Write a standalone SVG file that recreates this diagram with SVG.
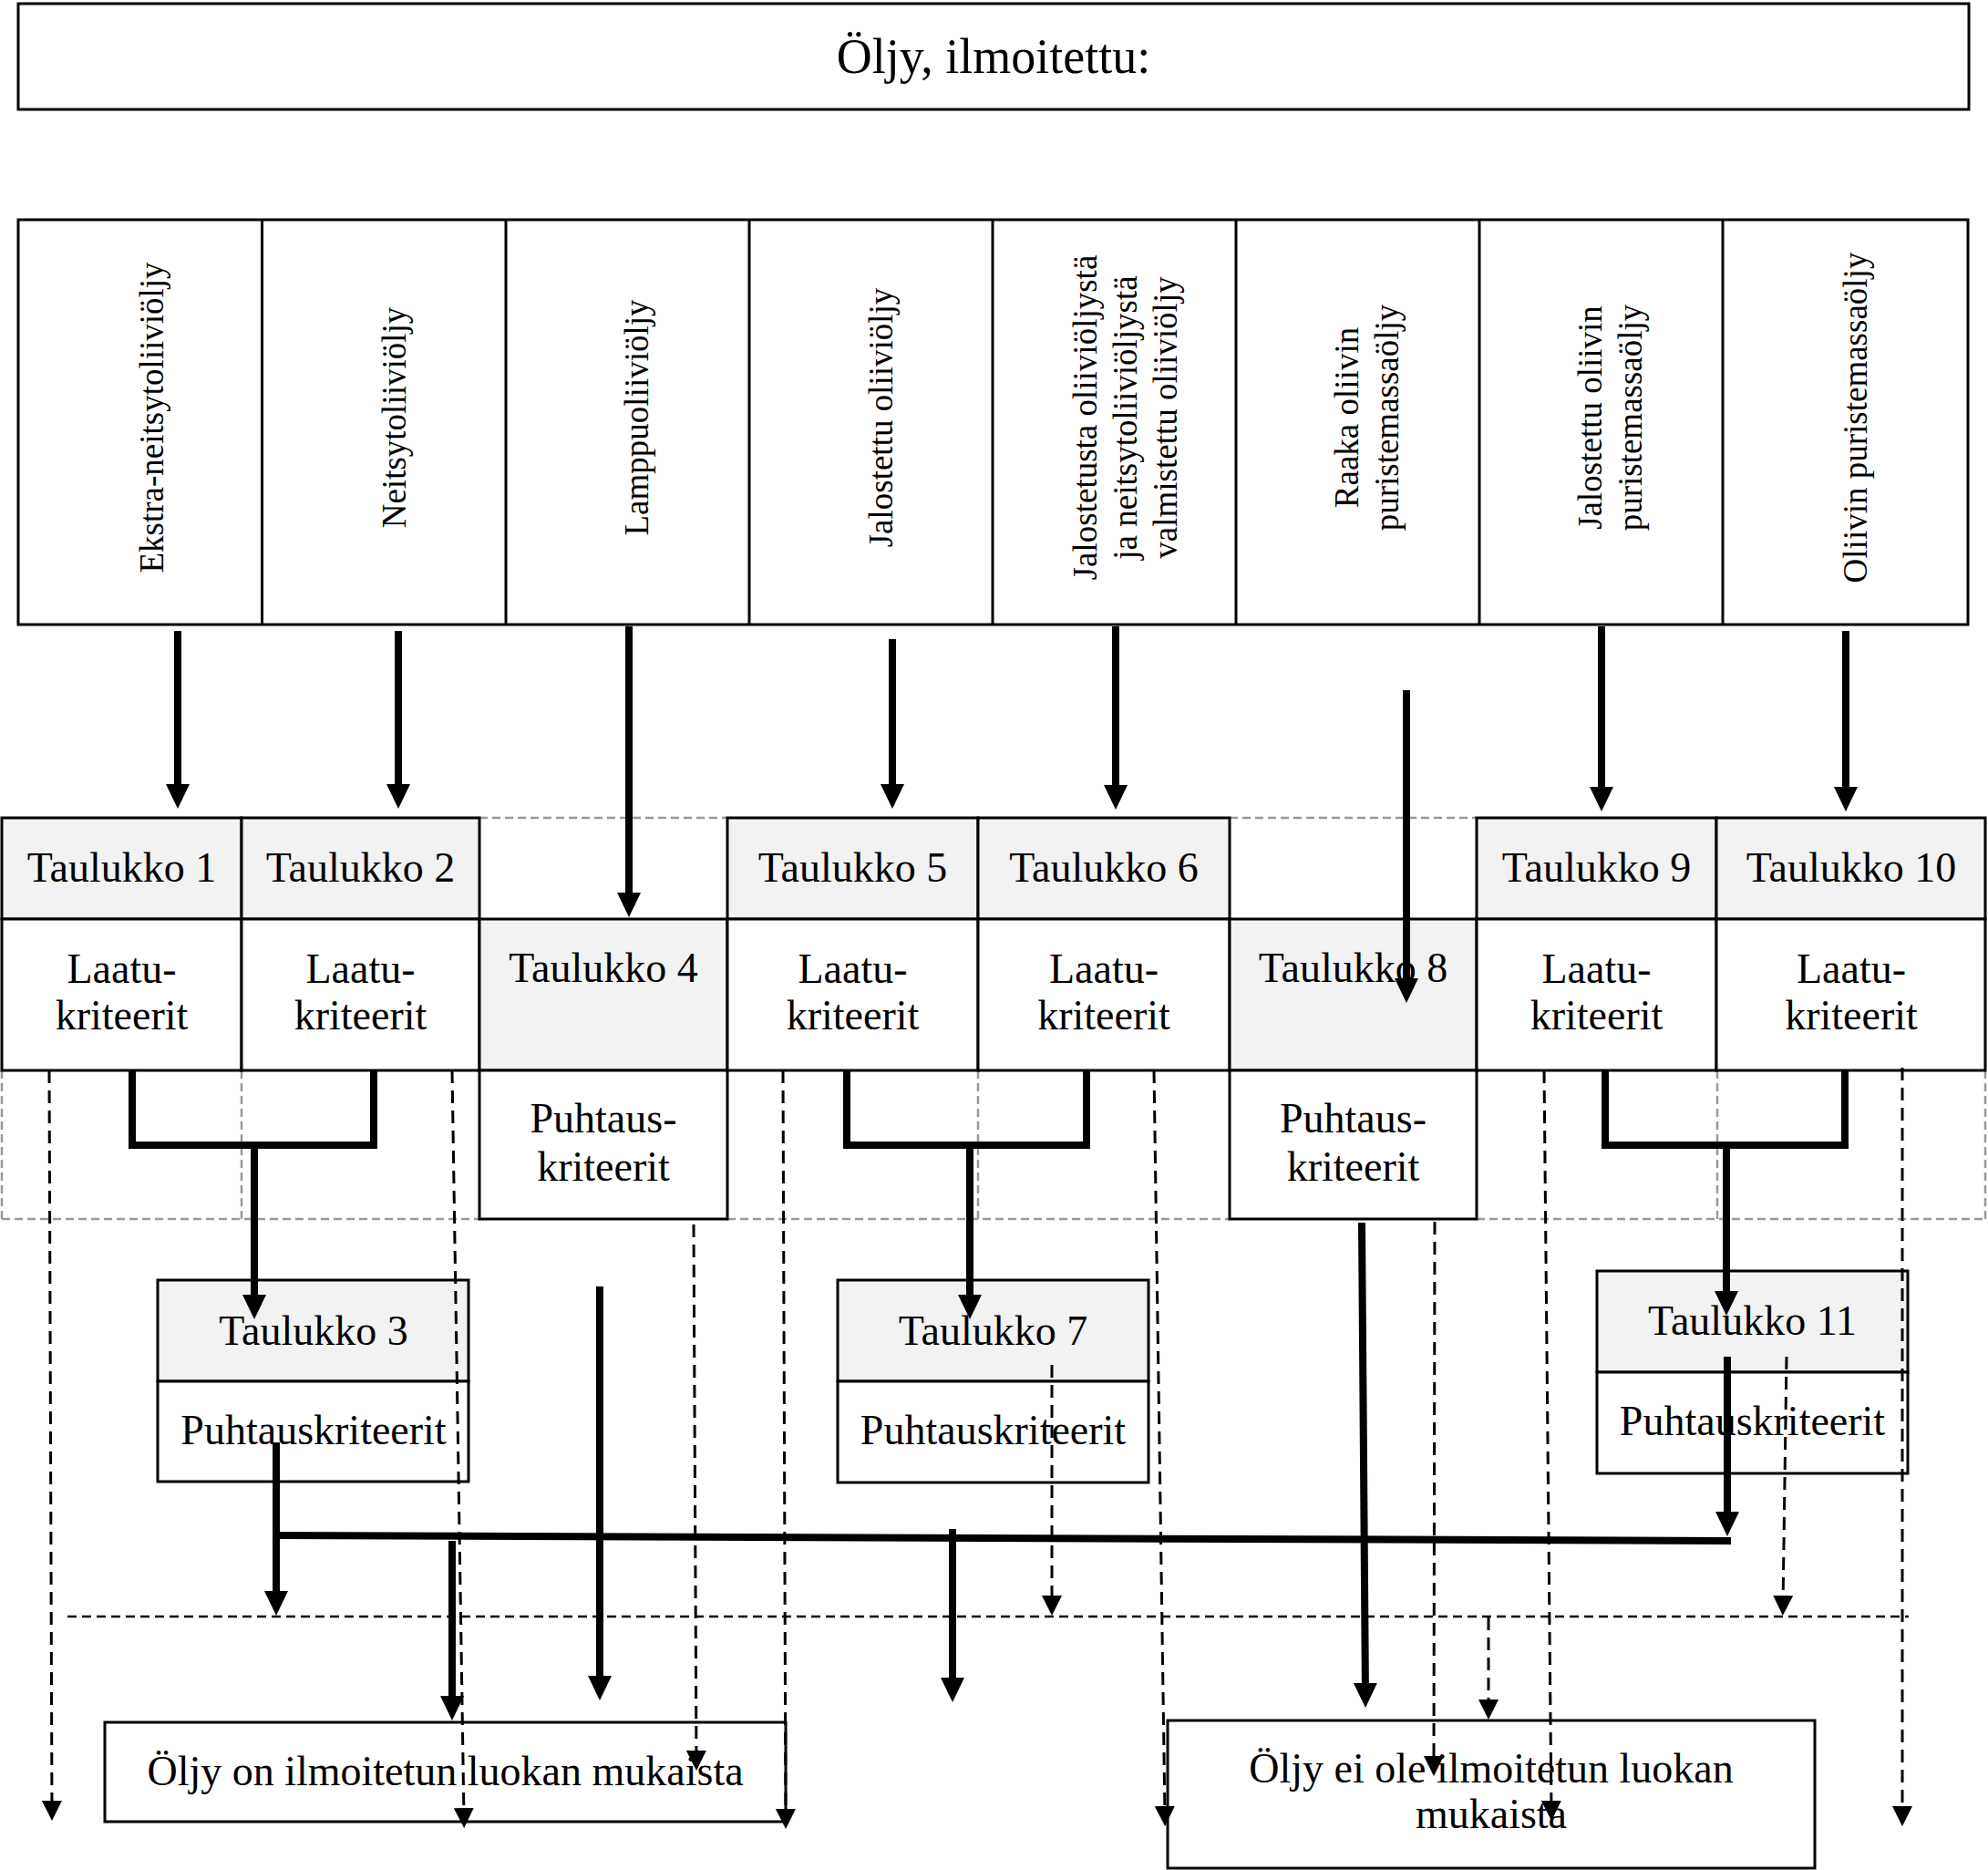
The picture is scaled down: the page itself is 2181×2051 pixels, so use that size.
<svg xmlns="http://www.w3.org/2000/svg" width="2181" height="2051" viewBox="0 0 2181 2051">
<style>
text{font-family:"Liberation Serif","Times New Roman",serif;fill:#000;text-anchor:middle}
.t{font-size:46px}
.tv{font-size:37px}
.ti{font-size:54px}
.box{fill:#fff;stroke:#000;stroke-width:3}
.hd{fill:#f2f2f2;stroke:#000;stroke-width:3}
.thick{fill:none;stroke:#000;stroke-width:8;marker-end:url(#ah)}
.br{fill:none;stroke:#000;stroke-width:8}
.dash{fill:none;stroke:#000;stroke-width:3;stroke-dasharray:14 8;marker-end:url(#ahd)}
.hdash{fill:none;stroke:#000;stroke-width:2.5;stroke-dasharray:10 6}
.gd{fill:none;stroke:#999;stroke-width:2.5;stroke-dasharray:9 5}
</style>
<defs>
<marker id="ah" markerUnits="userSpaceOnUse" viewBox="0 0 27 26" refX="17" refY="13" markerWidth="27" markerHeight="26" orient="auto"><path d="M0,0 L27,13 L0,26 z" fill="#000"/></marker>
<marker id="ahd" markerUnits="userSpaceOnUse" viewBox="0 0 22 22" refX="12" refY="11" markerWidth="22" markerHeight="22" orient="auto"><path d="M0,0 L22,11 L0,22 z" fill="#000"/></marker>
</defs>
<rect width="2181" height="2051" fill="#fff"/>

<g id="title">
<rect class="box" x="20" y="4" width="2140" height="116"/>
<text class="ti" x="1090" y="80">Öljy, ilmoitettu:</text>
</g>

<g id="oil-types">
<rect class="box" x="20" y="241" width="2139" height="444"/>
<path d="M287.5,241V685M555,241V685M822,241V685M1089,241V685M1356,241V685M1623,241V685M1890,241V685" stroke="#000" stroke-width="3"/>
<g id="c1"><text class="tv" transform="translate(179,458) rotate(-90)">Ekstra-neitsytoliiviöljy</text></g>
<g id="c2"><text class="tv" transform="translate(445,458) rotate(-90)">Neitsytoliiviöljy</text></g>
<g id="c3"><text class="tv" transform="translate(711,458) rotate(-90)">Lamppuoliiviöljy</text></g>
<g id="c4"><text class="tv" transform="translate(979,458) rotate(-90)">Jalostettu oliiviöljy</text></g>
<g id="c5">
<text class="tv" transform="translate(1203,458) rotate(-90)">Jalostetusta oliiviöljystä</text>
<text class="tv" transform="translate(1247,458) rotate(-90)">ja neitsytoliiviöljystä</text>
<text class="tv" transform="translate(1291,458) rotate(-90)">valmistettu oliiviöljy</text>
</g>
<g id="c6">
<text class="tv" transform="translate(1490,458) rotate(-90)">Raaka oliivin</text>
<text class="tv" transform="translate(1534,458) rotate(-90)">puristemassaöljy</text>
</g>
<g id="c7">
<text class="tv" transform="translate(1757,458) rotate(-90)">Jalostettu oliivin</text>
<text class="tv" transform="translate(1801,458) rotate(-90)">puristemassaöljy</text>
</g>
<g id="c8"><text class="tv" transform="translate(2048,458) rotate(-90)">Oliivin puristemassaöljy</text></g>
</g>

<g id="table-frame">
<path class="gd" d="M526,897H798M1349,897H1620M2,1174V1337M2,1337H526M798,1337H1349M1620,1337H2178M2178,1174V1337M265,1174V1337M1073,1174V1337M1884,1174V1337"/>
</g>

<g id="taulukko1">
<rect class="hd" x="2" y="897" width="263" height="111"/>
<rect class="box" x="2" y="1008" width="263" height="166"/>
<text class="t" x="133.5" y="967">Taulukko 1</text>
<text class="t" x="133.5" y="1078">Laatu-</text>
<text class="t" x="133.5" y="1129">kriteerit</text>
</g>
<g id="taulukko2">
<rect class="hd" x="265" y="897" width="261" height="111"/>
<rect class="box" x="265" y="1008" width="261" height="166"/>
<text class="t" x="395.5" y="967">Taulukko 2</text>
<text class="t" x="395.5" y="1078">Laatu-</text>
<text class="t" x="395.5" y="1129">kriteerit</text>
</g>
<g id="taulukko4">
<rect class="hd" x="526" y="1008" width="272" height="166"/>
<rect class="box" x="526" y="1174" width="272" height="163"/>
<text class="t" x="662" y="1077">Taulukko 4</text>
<text class="t" x="662" y="1242">Puhtaus-</text>
<text class="t" x="662" y="1295">kriteerit</text>
</g>
<g id="taulukko5">
<rect class="hd" x="798" y="897" width="275" height="111"/>
<rect class="box" x="798" y="1008" width="275" height="166"/>
<text class="t" x="935.5" y="967">Taulukko 5</text>
<text class="t" x="935.5" y="1078">Laatu-</text>
<text class="t" x="935.5" y="1129">kriteerit</text>
</g>
<g id="taulukko6">
<rect class="hd" x="1073" y="897" width="276" height="111"/>
<rect class="box" x="1073" y="1008" width="276" height="166"/>
<text class="t" x="1211" y="967">Taulukko 6</text>
<text class="t" x="1211" y="1078">Laatu-</text>
<text class="t" x="1211" y="1129">kriteerit</text>
</g>
<g id="taulukko8">
<rect class="hd" x="1349" y="1008" width="271" height="166"/>
<rect class="box" x="1349" y="1174" width="271" height="163"/>
<text class="t" x="1484.5" y="1077">Taulukko 8</text>
<text class="t" x="1484.5" y="1242">Puhtaus-</text>
<text class="t" x="1484.5" y="1295">kriteerit</text>
</g>
<g id="taulukko9">
<rect class="hd" x="1620" y="897" width="263" height="111"/>
<rect class="box" x="1620" y="1008" width="263" height="166"/>
<text class="t" x="1751.5" y="967">Taulukko 9</text>
<text class="t" x="1751.5" y="1078">Laatu-</text>
<text class="t" x="1751.5" y="1129">kriteerit</text>
</g>
<g id="taulukko10">
<rect class="hd" x="1883" y="897" width="295" height="111"/>
<rect class="box" x="1883" y="1008" width="295" height="166"/>
<text class="t" x="2031" y="967">Taulukko 10</text>
<text class="t" x="2031" y="1078">Laatu-</text>
<text class="t" x="2031" y="1129">kriteerit</text>
</g>
<g id="taulukko3">
<rect class="hd" x="173" y="1404" width="341" height="111"/>
<rect class="box" x="173" y="1515" width="341" height="110"/>
<text class="t" x="344" y="1475">Taulukko 3</text>
<text class="t" x="344" y="1584">Puhtauskriteerit</text>
</g>
<g id="taulukko7">
<rect class="hd" x="919" y="1404" width="341" height="111"/>
<rect class="box" x="919" y="1515" width="341" height="111"/>
<text class="t" x="1089.5" y="1475">Taulukko 7</text>
<text class="t" x="1089.5" y="1584">Puhtauskriteerit</text>
</g>
<g id="taulukko11">
<rect class="hd" x="1752" y="1394" width="341" height="111"/>
<rect class="box" x="1752" y="1505" width="341" height="111"/>
<text class="t" x="1922.5" y="1464">Taulukko 11</text>
<text class="t" x="1922.5" y="1574">Puhtauskriteerit</text>
</g>
<g id="result-ok">
<rect class="box" x="115" y="1889" width="747" height="109"/>
<text class="t" x="488.5" y="1958">Öljy on ilmoitetun luokan mukaista</text>
</g>
<g id="result-not">
<rect class="box" x="1281" y="1887" width="710" height="162"/>
<text class="t" x="1636" y="1955">Öljy ei ole ilmoitetun luokan</text>
<text class="t" x="1636" y="2005">mukaista</text>
</g>

<g id="connectors">
<path class="thick" d="M195,692V877"/>
<path class="thick" d="M437,692V877"/>
<path class="thick" d="M690,687V996"/>
<path class="thick" d="M979,701V877"/>
<path class="thick" d="M1224,687V878"/>
<path class="thick" d="M1543,757V1090"/>
<path class="thick" d="M1757,687V880"/>
<path class="thick" d="M2025,692V880"/>
<path class="br" d="M145,1174V1256H410V1174"/>
<path class="br" d="M929,1174V1256H1192V1174"/>
<path class="br" d="M1761,1174V1256H2024V1174"/>
<path class="thick" d="M279,1252V1437"/>
<path class="thick" d="M1064,1252V1437"/>
<path class="thick" d="M1894,1252V1433"/>
<path class="thick" d="M303,1582V1762"/>
<path class="br" d="M299,1684L1899,1690"/>
<path class="thick" d="M1895,1488V1675"/>
<path class="thick" d="M496,1690V1877"/>
<path class="thick" d="M1045,1677V1857"/>
<path class="thick" d="M658,1411V1855"/>
<path class="thick" d="M1494,1341L1498,1863"/>
<path class="dash" d="M54,1174L57,1987"/>
<path class="dash" d="M496,1174L509,1995"/>
<path class="dash" d="M761,1343L764,1932"/>
<path class="dash" d="M859,1174L862,1996"/>
<path class="dash" d="M1266,1174L1278,1993"/>
<path class="dash" d="M1574,1340L1573,1938"/>
<path class="dash" d="M1694,1174L1702,1987"/>
<path class="dash" d="M2087,1171V1993"/>
<path class="dash" d="M1154,1497V1762"/>
<path class="dash" d="M1960,1488L1956,1762"/>
<path class="dash" d="M1633,1774V1876"/>
<path class="hdash" d="M74,1773H2094"/>
</g>
</svg>
